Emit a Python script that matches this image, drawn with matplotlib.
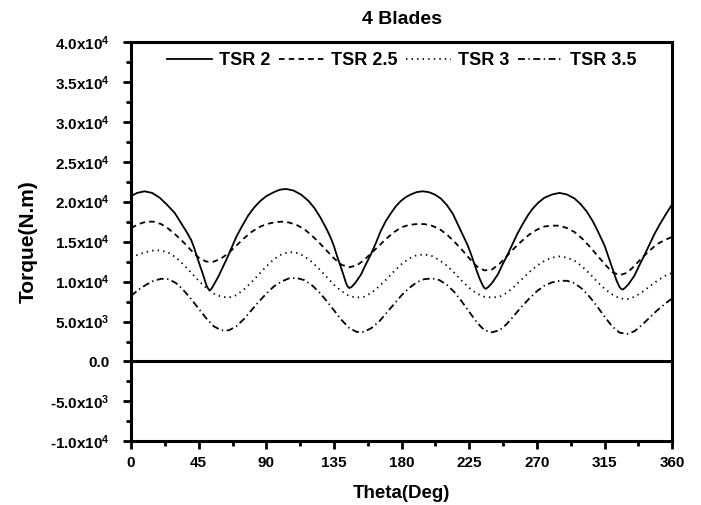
import numpy as np
import matplotlib
matplotlib.use("Agg")
import matplotlib.pyplot as plt
from matplotlib.ticker import MultipleLocator, FuncFormatter

plt.rcParams['font.family'] = ['Liberation Sans', 'DejaVu Sans']
plt.rcParams['font.weight'] = 'bold'
plt.rcParams['mathtext.fontset'] = 'custom'
plt.rcParams['mathtext.rm'] = 'Liberation Sans:bold'
plt.rcParams['mathtext.it'] = 'Liberation Sans:bold'
plt.rcParams['mathtext.bf'] = 'Liberation Sans:bold'
plt.rcParams['lines.scale_dashes'] = False

# torque curves (theta in deg, torque in kN.m)
theta_2 = [0, 4, 9, 14, 19, 24, 29, 33, 37, 40, 42, 44, 46, 48, 50, 51, 52.2, 53.5, 55, 58,
           61, 64, 67, 70, 74, 78, 82, 86, 90, 95, 99, 103, 108, 113, 118, 122, 126, 130,
           133, 135, 137, 139, 141, 143, 144, 145, 146.5, 149, 153, 156, 159.5, 163, 166,
           169.5, 173, 176, 179.5, 183, 186, 190, 194, 198, 202, 206, 210, 214, 218, 221,
           224, 226, 228, 230, 232, 234, 235, 236, 237.5, 240, 244, 247, 250.5, 254, 257,
           260.5, 264, 267, 271, 275, 280, 285, 290, 295, 299, 303, 307, 310, 313, 315, 317,
           319, 321, 323, 325, 326, 327, 328.5, 331, 335, 338, 341.5, 345, 348, 351.5, 355,
           358, 360]
torque_2 = [20.7, 21.1, 21.3, 21.1, 20.5, 19.6, 18.6, 17.4, 16.2, 15.2, 14.2, 13.0, 11.9,
            10.8, 9.6, 9.2, 8.9, 9.1, 9.6, 10.6, 11.8, 13.0, 14.3, 15.6, 17.0, 18.3, 19.3,
            20.1, 20.7, 21.2, 21.5, 21.6, 21.4, 20.9, 20.1, 19.2, 18.0, 16.6, 15.4, 14.4,
            13.2, 12.1, 11.0, 9.8, 9.4, 9.2, 9.3, 9.8, 10.9, 12.1, 13.4, 14.9, 16.3, 17.6,
            18.6, 19.4, 20.1, 20.6, 20.9, 21.2, 21.3, 21.2, 20.9, 20.4, 19.6, 18.5, 16.9,
            15.7, 14.5, 13.5, 12.4, 11.3, 10.3, 9.5, 9.2, 9.1, 9.3, 9.8, 10.9, 12.1, 13.4,
            14.8, 16.0, 17.2, 18.3, 19.1, 19.9, 20.5, 20.9, 21.1, 20.9, 20.4, 19.7, 18.8,
            17.6, 16.5, 15.3, 14.5, 13.4, 12.3, 11.2, 10.1, 9.3, 9.1, 9.0, 9.2, 9.7, 10.8,
            12.0, 13.3, 14.7, 15.9, 17.1, 18.2, 19.1, 19.7]

theta = list(range(0, 361, 5))
torque_25 = [16.7, 17.2, 17.5, 17.5, 17.2, 16.6, 15.8, 14.9, 13.9, 13.0, 12.5, 12.5, 12.9,
             13.6, 14.5, 15.4, 16.2, 16.8, 17.2, 17.4, 17.5, 17.4, 17.1, 16.6, 15.8, 14.9,
             13.9, 12.9, 12.1, 11.8, 12.0, 12.7, 13.6, 14.5, 15.4, 16.2, 16.8, 17.1, 17.2,
             17.2, 17.0, 16.6, 15.9, 15.0, 14.0, 12.9, 11.9, 11.4, 11.5, 12.2, 13.2, 14.2,
             15.1, 15.9, 16.5, 16.9, 17.0, 17.0, 16.7, 16.2, 15.4, 14.4, 13.3, 12.2, 11.2,
             10.8, 11.1, 12.0, 13.0, 13.9, 14.7, 15.2, 15.6]
torque_3 = [13.0, 13.4, 13.7, 13.9, 13.9, 13.6, 13.0, 12.1, 11.1, 10.1, 9.2, 8.5, 8.1, 8.0,
            8.3, 9.0, 9.9, 10.9, 11.9, 12.8, 13.4, 13.7, 13.6, 13.2, 12.5, 11.6, 10.6, 9.6,
            8.8, 8.2, 8.0, 8.1, 8.6, 9.4, 10.3, 11.3, 12.2, 12.9, 13.3, 13.4, 13.2, 12.7,
            12.0, 11.1, 10.1, 9.2, 8.5, 8.1, 8.0, 8.1, 8.6, 9.4, 10.3, 11.2, 12.0, 12.6,
            13.0, 13.15, 13.0, 12.6, 11.9, 11.0, 10.0, 9.1, 8.4, 7.9, 7.8, 8.1, 8.7, 9.4,
            10.1, 10.7, 11.1]
torque_35 = [8.2, 9.0, 9.6, 10.1, 10.35, 10.3, 9.8, 8.9, 7.8, 6.6, 5.4, 4.4, 3.9, 3.9, 4.4,
             5.3, 6.4, 7.5, 8.5, 9.4, 10.0, 10.4, 10.45, 10.2, 9.6, 8.7, 7.6, 6.4, 5.2, 4.2,
             3.7, 3.7, 4.2, 5.0, 6.1, 7.2, 8.3, 9.2, 9.9, 10.3, 10.4, 10.2, 9.6, 8.7, 7.5,
             6.2, 4.9, 3.9, 3.65, 3.9, 4.7, 5.8, 6.9, 7.9, 8.8, 9.5, 9.9, 10.1, 10.1, 9.8,
             9.1, 8.1, 6.9, 5.6, 4.4, 3.6, 3.45, 3.8, 4.6, 5.5, 6.4, 7.2, 7.9]

labels = ['TSR 2', 'TSR 2.5', 'TSR 3', 'TSR 3.5']

fig = plt.figure(figsize=(7.01, 5.05), dpi=100)
ax = fig.add_axes([0.187, 0.126, 0.772, 0.791])

lw = 1.3
ax.plot(theta_2, np.array(torque_2) * 1000, color='black', lw=lw, label=labels[0])
ax.plot(theta, np.array(torque_25) * 1000, color='black', lw=lw, dashes=(4, 3), label=labels[1])
ax.plot(theta, np.array(torque_3) * 1000, color='black', lw=lw, dashes=(1, 3), label=labels[2])
ax.plot(theta, np.array(torque_35) * 1000, color='black', lw=lw, dashes=(5, 2.5, 1, 2.5),
        label=labels[3])
ax.axhline(0, color='black', lw=2.2)

ax.set_xlim(0, 360)
ax.set_ylim(-10000, 40000)
ax.xaxis.set_major_locator(MultipleLocator(45))
ax.xaxis.set_minor_locator(MultipleLocator(22.5))
ax.yaxis.set_major_locator(MultipleLocator(5000))
ax.yaxis.set_minor_locator(MultipleLocator(2500))


# labels like 4.0x10^4
def sci_fmt(v, pos):
    if abs(v) < 1e-9:
        return '0.0'
    e = int(np.floor(np.log10(abs(v))))
    m = v / 10 ** e
    return '%.1fx10$^{%d}$' % (m, e)


ax.yaxis.set_major_formatter(FuncFormatter(sci_fmt))
ax.tick_params(which='both', direction='out', width=2, top=False, right=False,
               labelsize=11)
ax.tick_params(axis='y', which='major', length=5.5, pad=10)
ax.tick_params(axis='x', which='major', length=5.5, pad=5)
ax.tick_params(which='minor', length=3.5)
for s in ax.spines.values():
    s.set_linewidth(2.2)

ax.set_title('4 Blades', fontsize=14, fontweight='bold', pad=13)
ax.set_xlabel('Theta(Deg)', fontsize=13.5, fontweight='bold', labelpad=11)
ax.set_ylabel('Torque(N.m)', fontsize=15, fontweight='bold', labelpad=9)

ax.legend(loc='upper center', bbox_to_anchor=(0.5, 1.015), ncol=4, frameon=False,
          handlelength=2.5, handletextpad=0.4, columnspacing=0.45,
          prop={'weight': 'bold', 'size': 13})

plt.savefig('out.png', dpi=100)
